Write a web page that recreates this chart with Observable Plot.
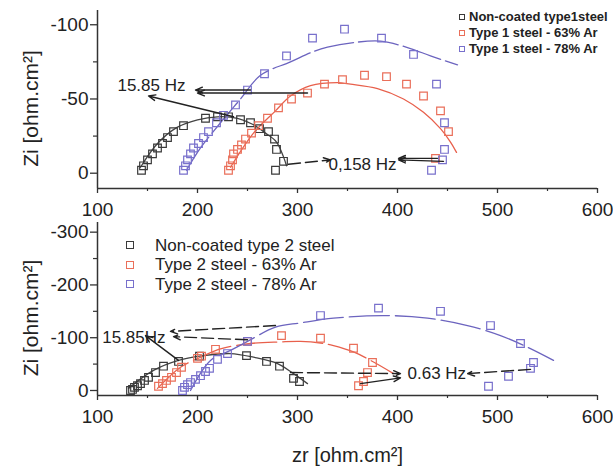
<!DOCTYPE html>
<html><head><meta charset="utf-8">
<script src="https://cdn.jsdelivr.net/npm/d3@7"></script>
<script src="https://cdn.jsdelivr.net/npm/@observablehq/plot@0.6"></script>
<style>
body{margin:0;background:#fff;font-family:Arial,"Liberation Sans",sans-serif}
#wrap{position:relative;width:613px;height:469px;overflow:hidden;background:#fff}
#wrap svg{position:absolute;left:0;overflow:visible}
.lg{position:absolute;display:flex;align-items:center;white-space:nowrap;color:#222}
.sq{box-sizing:border-box;background:transparent;flex:none}
</style></head><body><div id="wrap"></div>
<script>
// ---------- Panel 1 (type 1 steel) ----------
const t1BlackZr = [144,146,150,155,160,165,170,176,186,208,220,231,243,253,262,271,277,279,286,278];
const t1BlackZi = [-2,-5,-9,-13,-17,-20,-24,-28,-32,-37,-38,-38,-36,-34,-30,-28,-23,-16,-8,-2];
const t1RedZr = [231,233,235,236,240,244,248,254,261,270,281,294,310,327,345,367,389,409,426,443,451,438];
const t1RedZi = [-2,-5,-9,-13,-16,-19,-23,-27,-32,-37,-44,-50,-54,-60,-63,-66,-65,-60,-52,-42,-28,-10];
const t1PurpleZr = [186,188,190,193,196,201,206,211,219,226,238,250,267,289,315,347,384,416,439,447,447,445,434];
const t1PurpleZi = [-2,-5,-9,-13,-17,-20,-24,-28,-34,-39,-46,-56,-67,-79,-91,-97,-91,-80,-60,-34,-16,-9,-2];
// fitted curves
const t1BlackFitZr = [143,160,180,200,220,240,255,268,279,286,289];
const t1BlackFitZi = [-4,-20,-31,-36,-38,-37,-33,-27,-21,-11,-5];
const t1RedFitZr = [233,256,278,293,313,340,353,380,406,426,443,453,459];
const t1RedFitZi = [-4,-27,-42,-52,-59,-61,-60,-57,-50,-41,-30,-21,-14];
const t1PurpleFitZr = [189,203,223,243,263,293,316,330,356,383,413,433,460];
const t1PurpleFitZi = [-2,-17,-34,-50,-66,-75,-82,-85,-88,-89,-84,-79,-73];
const t1Legend = ["Non-coated type1steel","Type 1 steel - 63% Ar","Type 1 steel - 78% Ar"];
// annotations (data units)
const t1ArrowX1 = [253,310,236,291,446,440];
const t1ArrowY1 = [-56,-54,-38,-6,-8,-10];
const t1ArrowX2 = [198,200,151,333,401,401];
const t1ArrowY2 = [-56,-54,-52,-9,-9,-10];
const t1ArrowDashed = [false,false,false,true,false,false];
const t1Labels = ["15.85 Hz","0,158 Hz"];
const t1LabelX = [188,331];
const t1LabelY = [-59,-6];
const t1LabelAnchor = ["end","start"];

// ---------- Panel 2 (type 2 steel) ----------
const t2BlackZr = [133,135,137,140,143,147,151,158,166,181,202,249,269,282,296,302];
const t2BlackZi = [0,-2,-6,-9,-13,-19,-25,-34,-46,-55,-65,-66,-55,-46,-23,-17];
const t2RedZr = [161,165,169,174,179,184,200,204,218,250,284,323,356,375,370,366,361];
const t2RedZi = [-8,-13,-19,-25,-34,-44,-61,-65,-78,-93,-104,-99,-80,-53,-34,-17,-9];
const t2PurpleZr = [185,187,190,193,198,203,208,212,220,230,250,323,381,443,493,523,536,533,511,491];
const t2PurpleZi = [0,-6,-11,-15,-21,-28,-36,-42,-59,-70,-93,-142,-156,-150,-123,-89,-53,-42,-27,-8];
const t2BlackFitZr = [131,156,181,206,233,256,280,296,310];
const t2BlackFitZi = [-4,-38,-57,-66,-70,-63,-51,-32,-13];
const t2RedFitZr = [160,183,203,223,253,283,303,323,336,356,376,396];
const t2RedFitZi = [-4,-44,-63,-79,-89,-92,-93,-90,-85,-73,-54,-32];
const t2PurpleFitZr = [193,213,233,250,278,303,336,386,430,470,503,530,556];
const t2PurpleFitZi = [0,-57,-76,-93,-120,-128,-137,-142,-137,-123,-104,-82,-57];
const t2Legend = ["Non-coated type 2 steel","Type 2 steel - 63% Ar","Type 2 steel - 78% Ar"];
const t2ArrowX1 = [278,250,181,293,363,533];
const t2ArrowY1 = [-123,-96,-57,-34,-13,-40];
const t2ArrowX2 = [173,176,148,403,403,470];
const t2ArrowY2 = [-112,-102,-104,-32,-24,-32];
const t2ArrowDashed = [true,true,false,true,false,true];
const t2Labels = ["15.85Hz","0.63 Hz"];
const t2LabelX = [168,410];
const t2LabelY = [-101,-32];
const t2LabelAnchor = ["end","start"];

// ticks
const xTicks = [100,200,300,400,500,600];
const xMinor = [150,250,350,450,550];
const y1Ticks = [-100,-50,0];
const y1Minor = [-75,-25];
const y2Ticks = [-300,-200,-100,0];
const y2Minor = [-250,-150,-50];
const xDomain = [100,600];
const y1Domain = [10.3,-109.6];
const y2Domain = [9.5,-318.3];

// ---------- styles ----------
const colBlack = "#3a3a3a", colRed = "#ea6f5a", colPurple = "#7870cc";
const lineBlack = "#444", lineRed = "#e8604c", linePurple = "#6c64bf";
const axisCol = "#333";
const FONT = "Arial, 'Liberation Sans', sans-serif";

const pts = (zr, zi) => zr.map((x, i) => ({x, y: zi[i]}));
const arrows = (x1, y1, x2, y2, dashed) => x1.map((v, i) => ({x1: v, y1: y1[i], x2: x2[i], y2: y2[i], dashed: dashed[i]}));
const labels = (t, x, y, a) => t.map((s, i) => ({text: s, x: x[i], y: y[i], anchor: a[i]}));

function panel({height, marginTop, marginBottom, yDomain, yTicks, yMinor, series, fits, arr, labs, labYOffset, xLabel}) {
  const marks = [
    Plot.ruleX([xDomain[0]], {stroke: axisCol, strokeWidth: 1.5}),
    Plot.ruleY([yDomain[0]], {stroke: axisCol, strokeWidth: 1.5}),
    Plot.axisX(xTicks, {tickSize: 5, tickPadding: 9, tickFormat: d => String(d), label: null, stroke: axisCol, strokeWidth: 1.3}),
    Plot.axisX(xMinor, {tickSize: 3, tickFormat: () => "", label: null, stroke: axisCol, strokeWidth: 1.2}),
    Plot.axisY(yTicks, {tickSize: 7, tickPadding: 2, tickFormat: d => String(d), label: null, stroke: axisCol, strokeWidth: 1.3}),
    Plot.axisY(yMinor, {tickSize: 4, tickFormat: () => "", label: null, stroke: axisCol, strokeWidth: 1.2}),
    Plot.text(["Zi [ohm.cm²]"], {frameAnchor: "left", dx: -66, dy: labYOffset, rotate: -90, fontSize: 21, textAnchor: "middle"})
  ];
  for (const f of fits) marks.push(Plot.line(f.data, {x: "x", y: "y", stroke: f.color, strokeWidth: 1.3, curve: "catmull-rom", strokeDasharray: f.dash}));
  for (const s of series) marks.push(Plot.dot(s.data, {x: "x", y: "y", symbol: "square", r: 4.3, stroke: s.color, strokeWidth: 1.2, fill: "none"}));
  marks.push(Plot.arrow(arr.filter(d => !d.dashed), {x1: "x1", y1: "y1", x2: "x2", y2: "y2", stroke: "#222", strokeWidth: 1.4, headLength: 8, headAngle: 45}));
  marks.push(Plot.arrow(arr.filter(d => d.dashed), {x1: "x1", y1: "y1", x2: "x2", y2: "y2", stroke: "#222", strokeWidth: 1.4, headLength: 8, headAngle: 45, strokeDasharray: "12,5"}));
  marks.push(Plot.text(labs.filter(d => d.anchor === "end"), {x: "x", y: "y", text: "text", textAnchor: "end", fontSize: 17, fill: "#222"}));
  marks.push(Plot.text(labs.filter(d => d.anchor === "start"), {x: "x", y: "y", text: "text", textAnchor: "start", fontSize: 17, fill: "#222"}));
  if (xLabel) marks.push(Plot.text([xLabel], {frameAnchor: "bottom", dy: 66, fontSize: 20, textAnchor: "middle"}));
  return Plot.plot({
    width: 613, height, marginLeft: 97, marginRight: 16, marginTop, marginBottom,
    x: {domain: xDomain}, y: {domain: yDomain},
    style: {fontFamily: FONT, fontSize: "19px", color: "#222", background: "transparent", overflow: "visible"},
    marks
  });
}

const wrap = document.getElementById("wrap");

const svg1 = panel({
  height: 230, marginTop: 10, marginBottom: 42, yDomain: y1Domain, yTicks: y1Ticks, yMinor: y1Minor,
  labYOffset: 9,
  series: [
    {data: pts(t1BlackZr, t1BlackZi), color: colBlack},
    {data: pts(t1RedZr, t1RedZi), color: colRed},
    {data: pts(t1PurpleZr, t1PurpleZi), color: colPurple}
  ],
  fits: [
    {data: pts(t1BlackFitZr, t1BlackFitZi), color: lineBlack, dash: null},
    {data: pts(t1RedFitZr, t1RedFitZi), color: lineRed, dash: null},
    {data: pts(t1PurpleFitZr, t1PurpleFitZi), color: linePurple, dash: "40,5"}
  ],
  arr: arrows(t1ArrowX1, t1ArrowY1, t1ArrowX2, t1ArrowY2, t1ArrowDashed),
  labs: labels(t1Labels, t1LabelX, t1LabelY, t1LabelAnchor)
});
svg1.style.top = "0px";
wrap.appendChild(svg1);

const svg2 = panel({
  height: 254, marginTop: 7, marginBottom: 74, yDomain: y2Domain, yTicks: y2Ticks, yMinor: y2Minor,
  labYOffset: 9,
  series: [
    {data: pts(t2BlackZr, t2BlackZi), color: colBlack},
    {data: pts(t2RedZr, t2RedZi), color: colRed},
    {data: pts(t2PurpleZr, t2PurpleZi), color: colPurple}
  ],
  fits: [
    {data: pts(t2BlackFitZr, t2BlackFitZi), color: lineBlack, dash: null},
    {data: pts(t2RedFitZr, t2RedFitZi), color: lineRed, dash: "40,6"},
    {data: pts(t2PurpleFitZr, t2PurpleFitZi), color: linePurple, dash: "40,6"}
  ],
  arr: arrows(t2ArrowX1, t2ArrowY1, t2ArrowX2, t2ArrowY2, t2ArrowDashed),
  labs: labels(t2Labels, t2LabelX, t2LabelY, t2LabelAnchor),
  xLabel: "zr [ohm.cm²]"
});
svg2.style.top = "215px";
wrap.appendChild(svg2);

// legends
function legend(items, colors, {sqX, sqSize, textX, rowY, fontSize, weight, rowH}) {
  items.forEach((name, i) => {
    const row = document.createElement("div");
    row.className = "lg";
    row.style.left = (sqX - sqSize / 2) + "px";
    row.style.top = (rowY[i] - rowH / 2) + "px";
    row.style.height = rowH + "px";
    row.style.lineHeight = rowH + "px";
    row.style.fontSize = fontSize + "px";
    row.style.fontWeight = weight;
    const sq = document.createElement("span");
    sq.className = "sq";
    sq.style.width = sqSize + "px";
    sq.style.height = sqSize + "px";
    sq.style.border = "1.2px solid " + colors[i];
    sq.style.marginRight = (textX - sqX - sqSize / 2) + "px";
    const tx = document.createElement("span");
    tx.textContent = name;
    row.appendChild(sq);
    row.appendChild(tx);
    wrap.appendChild(row);
  });
}
legend(t1Legend, [colBlack, colRed, colPurple], {sqX: 462, sqSize: 6, textX: 469, rowY: [16.5, 32.5, 48.5], fontSize: 13, weight: "bold", rowH: 15});
legend(t2Legend, [colBlack, colRed, colPurple], {sqX: 130, sqSize: 8, textX: 155, rowY: [245, 264.5, 284], fontSize: 17, weight: "normal", rowH: 19});
</script>
</body></html>
